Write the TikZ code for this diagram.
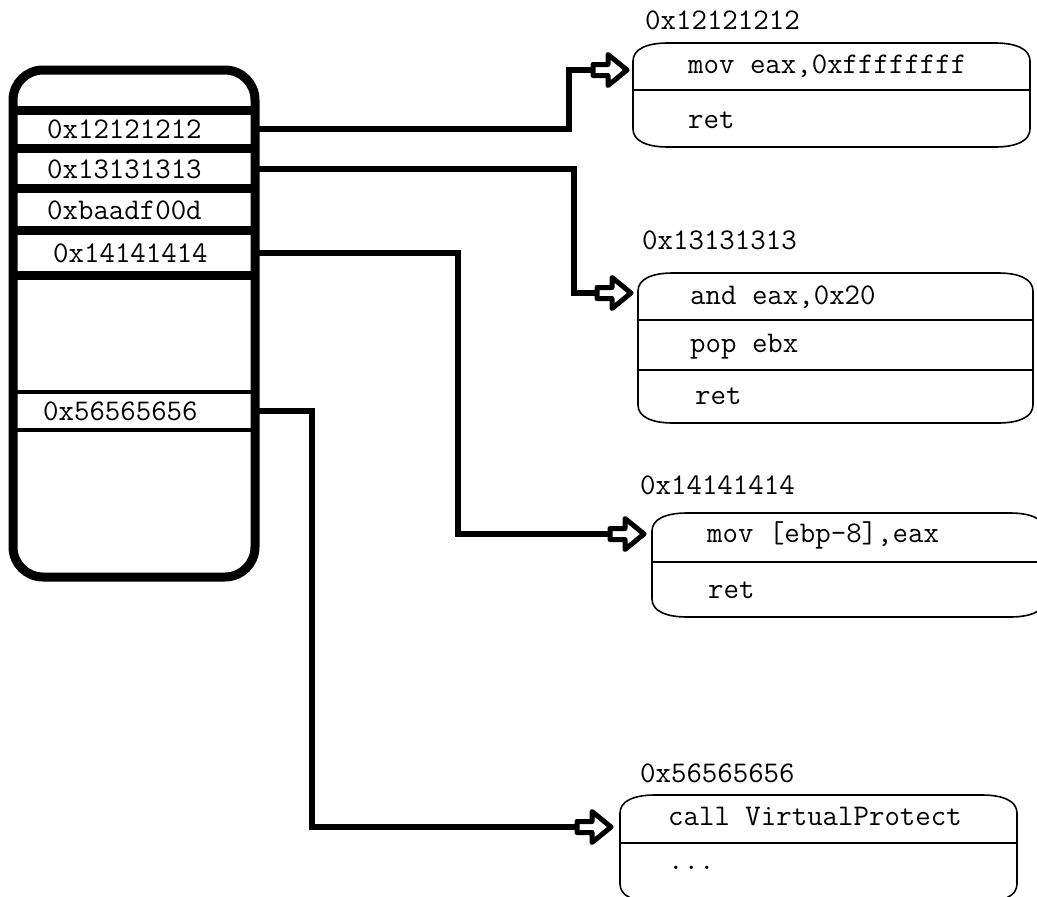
\documentclass[tikz,border=0pt]{standalone}
\usepackage{fontspec}
\usetikzlibrary{calc,fit}
\newcommand\codebox[5]{%
  \draw[boxline] (#2,#3+18) .. controls (#2,#3+6) and (#2+14,#3) .. (#2+35,#3) -- (#4-35,#3)
    .. controls (#4-14,#3) and (#4,#3+6) .. (#4,#3+18) -- (#4,#5-18)
    .. controls (#4,#5-6) and (#4-14,#5) .. (#4-35,#5) -- (#2+35,#5)
    .. controls (#2+14,#5) and (#2,#5-6) .. (#2,#5-18) -- cycle;
  \node[fit={(#2,#3) (#4,#5)}, inner sep=0pt, outer sep=0pt] (#1) {};
}
\tikzset{
  code/.style={font=\ttfamily\fontsize{30}{34}\selectfont, inner sep=0pt, anchor=west},
  boxline/.style={line width=1.6pt},
  thicksep/.style={line width=9pt},
  thinsep/.style={line width=4.5pt},
  conn/.style={line width=6pt},
  hollow/.pic={\draw[line width=5pt, fill=white, line join=round]
     (-34,-5.5) -- (-19,-5.5) -- (-19,-15.5) -- (0,0) -- (-19,15.5) -- (-19,5.5) -- (-34,5.5) -- cycle;}
}
\begin{document}
\begin{tikzpicture}[x=1pt,y=-1pt]
\useasboundingbox[fill=white] (0,0) rectangle (1037,897);
% stack
\node[draw, line width=9pt, rounded corners=30pt, minimum width=242pt, minimum height=507pt, outer sep=0pt, inner sep=0pt] (stack) at (134,323.5) {};
\foreach \yy in {110,148,188,230,275} \draw[thicksep] (stack.west |- 0,\yy) -- (stack.east |- 0,\yy);
\foreach \yy in {392,430} \draw[thinsep] (stack.west |- 0,\yy) -- (stack.east |- 0,\yy);
\node[code] (c1) at (47,129) {0x12121212};
\node[code] (c2) at (47,169) {0x13131313};
\node[code] (c3) at (47,210) {0xbaadf00d};
\node[code] (c4) at (53,253) {0x14141414};
\node[code] (c5) at (43,411) {0x56565656};
% code boxes
\codebox{b1}{633}{43}{1030}{147}
\draw[boxline] (b1.west |- 0,90) -- (b1.east |- 0,90);
\node[code] (l1) at (645,20) {0x12121212};
\node[code] (b1r1) at (688,66) {mov eax,0xffffffff};
\node[code] (b1r2) at (688,120) {ret};
\codebox{b2}{638}{273}{1033}{423}
\draw[boxline] (b2.west |- 0,320) -- (b2.east |- 0,320);
\draw[boxline] (b2.west |- 0,370) -- (b2.east |- 0,370);
\node[code] (l2) at (642,240) {0x13131313};
\node[code] (b2r1) at (690,297) {and eax,0x20};
\node[code] (b2r2) at (690,347) {pop ebx};
\node[code] (b2r3) at (695,396) {ret};
\codebox{b3}{652}{513}{1045}{617}
\draw[boxline] (b3.west |- 0,562) -- (b3.east |- 0,562);
\node[code] (l3) at (640,485) {0x14141414};
\node[code] (b3r1) at (707,535) {mov [ebp-8],eax};
\node[code] (b3r2) at (708,590) {ret};
\codebox{b4}{620}{795}{1017}{902}
\draw[boxline] (b4.west |- 0,843) -- (b4.east |- 0,843);
\node[code] (l4) at (640,773) {0x56565656};
\node[code] (b4r1) at (668,816) {call VirtualProtect};
\node[code] (b4r2) at (668,868) {...};
% arrow tips
\coordinate (a1) at ($(b1.west |- 0,70)+(-6,0)$);
\coordinate (a2) at ($(b2.west |- 0,293)+(-7,0)$);
\coordinate (a3) at ($(b3.west |- 0,534)+(-8,0)$);
\coordinate (a4) at ($(b4.west |- 0,827)+(-9,0)$);
% connectors
\draw[conn] (c1 -| stack.east) -| ($(a1)+(-58,0)$) -- ($(a1)+(-34,0)$);
\draw[conn] (c2 -| stack.east) -| ($(a2)+(-57,0)$) -- ($(a2)+(-34,0)$);
\draw[conn] (c4 -| stack.east) -| ($(a3)+(-186,0)$) -- ($(a3)+(-34,0)$);
\draw[conn] (c5 -| stack.east) -| ($(a4)+(-299,0)$) -- ($(a4)+(-34,0)$);
\pic at (a1) {hollow};
\pic at (a2) {hollow};
\pic at (a3) {hollow};
\pic at (a4) {hollow};
\end{tikzpicture}
\end{document}
